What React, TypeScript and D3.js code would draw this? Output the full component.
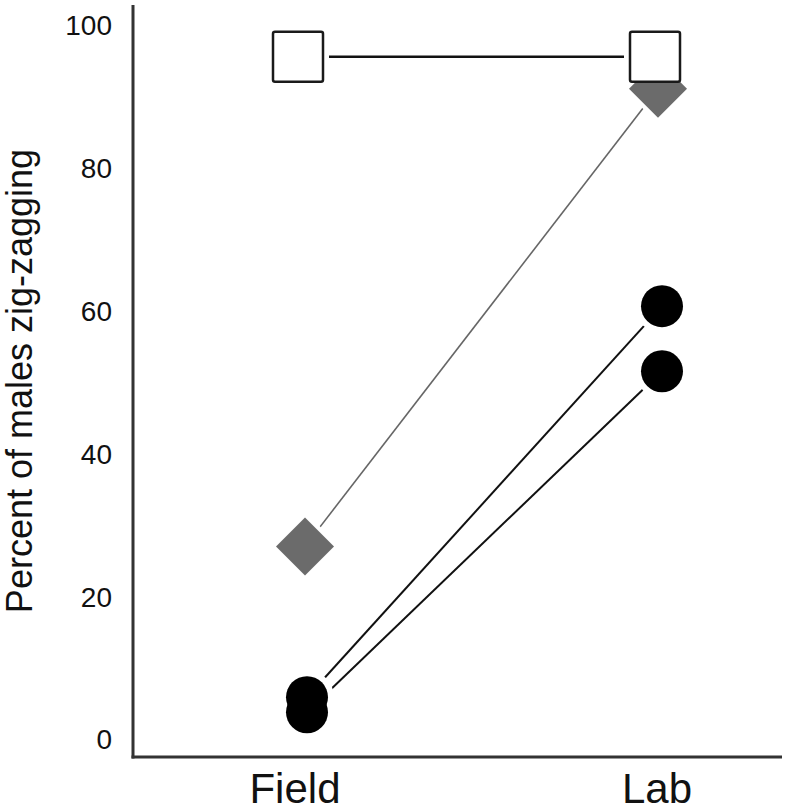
import React from "react";
import * as d3 from "d3";

const categories = ["Field", "Lab"];
const yTicks = [0, 20, 40, 60, 80, 100];
const squareValues = [95.5, 95.5];
const diamondValues = [27.0, 91.0];
const circleAValues = [5.9, 60.6];
const circleBValues = [3.8, 51.5];

const W = 785;
const H = 807;
const axisX = 133;
const axisY = 757;
const FONT = "'Liberation Sans', Arial, sans-serif";

export default function App() {
  const x = d3.scalePoint<string>().domain(categories).range([304, 659]);
  const y = d3.scaleLinear().domain([0, 100]).range([739.4, 24.5]);

  const series = [
    { key: "sq", values: squareValues, shape: "square", dx: [-6, -4], line: "#111", lw: 2.5 },
    { key: "dm", values: diamondValues, shape: "diamond", dx: [1, -1], line: "#666", lw: 1.6 },
    { key: "ca", values: circleAValues, shape: "circle", dx: [3, 3], line: "#111", lw: 2 },
    { key: "cb", values: circleBValues, shape: "circle", dx: [3, 3], line: "#111", lw: 2 },
  ];

  const pts = (s: any) =>
    categories.map((c, i) => [(x(c) as number) + s.dx[i], y(s.values[i])] as [number, number]);
  const lineGen = d3.line();

  const marker = (s: any, p: [number, number], k: string, halo: boolean) => {
    const [cx, cy] = p;
    const extra = halo ? 6 : 0;
    const fill = halo ? "#fff" : undefined;
    if (s.shape === "square") {
      const h = 25 + extra;
      return (
        <rect key={k} x={cx - h} y={cy - h} width={2 * h} height={2 * h} rx={halo ? 0 : 2}
          fill="#fff" stroke={halo ? "none" : "#1a1a1a"} strokeWidth={2.5} />
      );
    }
    if (s.shape === "diamond") {
      const h = 29 + extra;
      const d = `M${cx},${cy - h}L${cx + h},${cy}L${cx},${cy + h}L${cx - h},${cy}Z`;
      return <path key={k} d={d} fill={fill || "#6b6b6b"} />;
    }
    const r = 21 + extra;
    return <circle key={k} cx={cx} cy={cy} r={r} fill={fill || "#000"} />;
  };

  const order = ["dm", "ca", "cb", "sq"];
  const ordered = order.map((k) => series.find((s) => s.key === k)!);

  return (
    <svg width={W} height={H} style={{ position: "absolute", left: 0, top: 0, background: "#fff" }}>
      <rect width={W} height={H} fill="#fff" />
      {series.map((s) => (
        <path key={"l" + s.key} d={lineGen(pts(s)) || ""} fill="none" stroke={s.line} strokeWidth={s.lw} />
      ))}
      {ordered.map((s) => pts(s).map((p, i) => marker(s, p, "h" + s.key + i, true)))}
      {ordered.map((s) => pts(s).map((p, i) => marker(s, p, "m" + s.key + i, false)))}
      <line x1={axisX} x2={axisX} y1={5} y2={axisY + 1.5} stroke="#333" strokeWidth={3} />
      <line x1={axisX - 1.5} x2={782} y1={axisY} y2={axisY} stroke="#333" strokeWidth={3} />
      {yTicks.map((t) => (
        <text key={t} x={112} y={y(t)} dy="0.36em" textAnchor="end" fontFamily={FONT} fontSize={28} fill="#111">
          {t}
        </text>
      ))}
      {categories.map((c, i) => (
        <text key={c} x={(x(c) as number) + (i === 0 ? -9 : -2)} y={803} textAnchor="middle" fontFamily={FONT} fontSize={42} fill="#111">
          {c}
        </text>
      ))}
      <text transform="translate(32,381) rotate(-90)" textAnchor="middle" fontFamily={FONT} fontSize={36} fill="#111">
        Percent of males zig-zagging
      </text>
    </svg>
  );
}
